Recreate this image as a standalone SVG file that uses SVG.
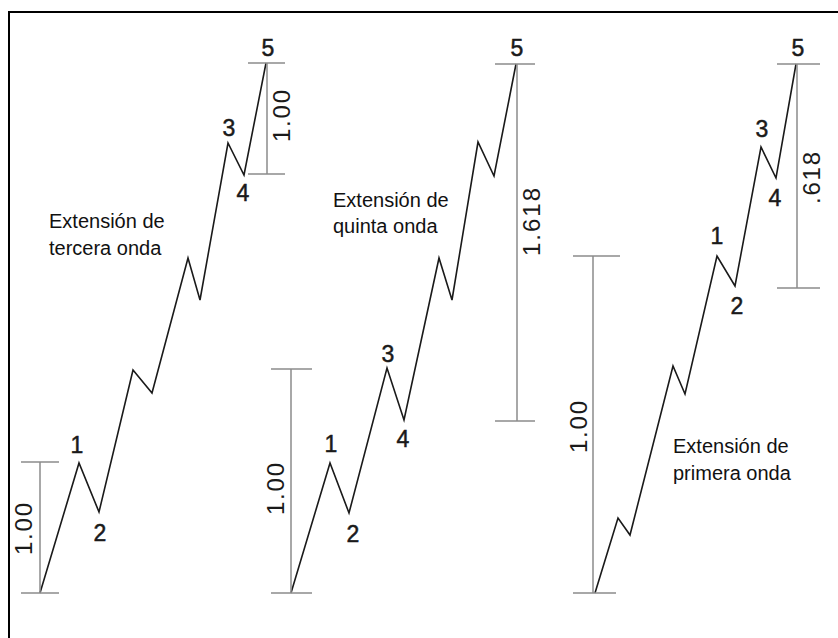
<svg xmlns="http://www.w3.org/2000/svg" width="838" height="638" viewBox="0 0 838 638">
<style>
.wave{fill:none;stroke:#1a1a1a;stroke-width:1.6;stroke-linejoin:miter}
.bar{fill:none;stroke:#8c8c8c;stroke-width:1.5}
.num{font-family:"Liberation Sans",Arial,sans-serif;font-size:23px;fill:#1a1a1a;stroke:#1a1a1a;stroke-width:0.5;text-anchor:middle}
.rat{font-family:"Liberation Sans",Arial,sans-serif;font-size:24px;fill:#1a1a1a;text-anchor:middle}
.cap{font-family:"Liberation Sans",Arial,sans-serif;font-size:20px;fill:#111}
.frame{fill:none;stroke:#000;stroke-width:2}
</style>
<rect width="838" height="638" fill="#fff"/>
<path class="frame" d="M9,638 V12 H838"/>
<g id="connectors">
<path class="wave" d="M40,593 L79,463 L99,512 L133,370 L152,393 L188,258 L200,300 L228,143 L244,175 L266,63"/>
<path class="wave" d="M291,593 L330,463 L349,513 L387,368 L404,420 L439,258 L452,300 L478,142 L494,176 L516,64"/>
<path class="wave" d="M595,593 L618,518 L630,535 L673,366 L685,394 L717,256 L735,286 L761,147 L776,178 L796,64"/>
</g>
<g id="bar-left-lower">
<path class="bar" d="M40,462 V593 M21,462 H59 M21,593 H59"/>
<text class="rat" transform="translate(32,529) rotate(-90)" textLength="52">1.00</text>
</g>
<g id="bar-left-upper">
<path class="bar" d="M267,63 V174 M248,63 H285 M248,174 H285"/>
<text class="rat" transform="translate(290,116) rotate(-90)" textLength="52">1.00</text>
</g>
<g id="bar-mid-lower">
<path class="bar" d="M291,369 V593 M271,369 H312 M271,593 H312"/>
<text class="rat" transform="translate(284,489) rotate(-90)" textLength="52">1.00</text>
</g>
<g id="bar-mid-upper">
<path class="bar" d="M517,64 V421 M495,64 H535 M495,421 H535"/>
<text class="rat" transform="translate(540,222) rotate(-90)" textLength="68">1.618</text>
</g>
<g id="bar-right-lower">
<path class="bar" d="M593,256 V593 M573,256 H620 M573,593 H616"/>
<text class="rat" transform="translate(587,427) rotate(-90)" textLength="52">1.00</text>
</g>
<g id="bar-right-upper">
<path class="bar" d="M797,64 V288 M777,64 H820 M777,288 H820"/>
<text class="rat" transform="translate(820,178) rotate(-90)" textLength="52">.618</text>
</g>
<g id="labels-left">
<text class="num" x="77" y="453">1</text>
<text class="num" x="100" y="541">2</text>
<text class="num" x="229" y="136">3</text>
<text class="num" x="243" y="201">4</text>
<text class="num" x="268" y="56">5</text>
<text class="cap" x="49" y="228">Extensión de</text>
<text class="cap" x="49" y="255">tercera onda</text>
</g>
<g id="labels-mid">
<text class="num" x="331" y="452">1</text>
<text class="num" x="353" y="542">2</text>
<text class="num" x="388" y="362">3</text>
<text class="num" x="403" y="447">4</text>
<text class="num" x="517" y="56">5</text>
<text class="cap" x="333" y="207">Extensión de</text>
<text class="cap" x="333" y="233">quinta onda</text>
</g>
<g id="labels-right">
<text class="num" x="717" y="244">1</text>
<text class="num" x="737" y="314">2</text>
<text class="num" x="762" y="137">3</text>
<text class="num" x="775" y="206">4</text>
<text class="num" x="798" y="56">5</text>
<text class="cap" x="673" y="453">Extensión de</text>
<text class="cap" x="673" y="480">primera onda</text>
</g>
</svg>
